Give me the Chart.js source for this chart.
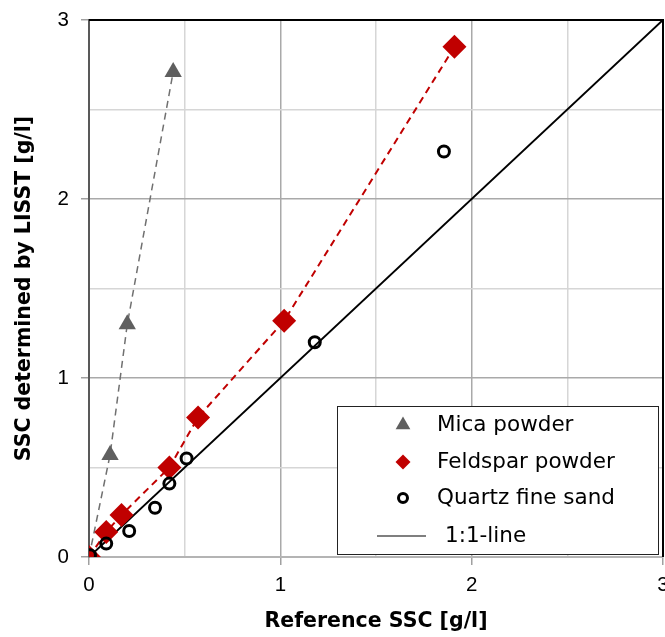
<!DOCTYPE html>
<html>
<head>
<meta charset="utf-8">
<script src="https://cdn.jsdelivr.net/npm/chart.js@4.4.0/dist/chart.umd.min.js"></script>
<style>
  body { margin: 0; background: #fff; }
  canvas { display: block; }
</style>
</head>
<body>
<canvas id="sscChart" width="665" height="637"></canvas>
<script>
// 図から読み取った値 [g/l]（x: Reference SSC, y: LISST）
const micaRef = [0, 0.11, 0.20, 0.44];
const micaLisst = [0, 0.57, 1.30, 2.71];
const feldsparRef = [0, 0.09, 0.17, 0.42, 0.57, 1.02, 1.91];
const feldsparLisst = [0, 0.14, 0.235, 0.50, 0.78, 1.32, 2.85];
const quartzRef = [0.005, 0.09, 0.21, 0.345, 0.42, 0.51, 1.18, 1.855];
const quartzLisst = [0.01, 0.075, 0.145, 0.275, 0.41, 0.55, 1.20, 2.265];
const lineRef = [0, 3];
const lineLisst = [0, 3];
const seriesLabels = ['Mica powder', 'Feldspar powder', 'Quartz fine sand', '1:1-line'];
const tickLabels = [0, 1, 2, 3];

const toPoints = (xs, ys) => xs.map((x, i) => ({ x: x, y: ys[i] }));

const isMajor = (ctx) => ctx.tick && tickLabels.includes(ctx.tick.value);

// 枠線（上・右）
const framePlugin = {
    id: 'frame',
    beforeDatasetsDraw(chart) {
        const { ctx, chartArea: a } = chart;
        ctx.save();
        ctx.strokeStyle = '#000';
        ctx.lineWidth = 2;
        ctx.beginPath();
        ctx.moveTo(a.left, a.top);
        ctx.lineTo(a.right, a.top);
        ctx.lineTo(a.right, a.bottom);
        ctx.stroke();
        ctx.restore();
    }
};

// 凡例（グラフ内の右下）
const boxLegendPlugin = {
    id: 'boxLegend',
    afterDraw(chart) {
        const { ctx, chartArea: a } = chart;
        const w = 321, h = 148;
        const left = a.right - 5 - w, top = a.bottom - 3 - h;
        ctx.save();
        ctx.fillStyle = '#fff';
        ctx.fillRect(left, top, w, h);
        ctx.strokeStyle = '#222';
        ctx.lineWidth = 1;
        ctx.strokeRect(left + 0.5, top + 0.5, w, h);

        const rows = [19, 56, 92, 130];
        const legendSizes = [8.5, 7.5, 4.5, 0];
        ctx.font = '21.5px "DejaVu Sans"';
        ctx.textBaseline = 'middle';
        chart.data.datasets.forEach((ds, i) => {
            const y = top + rows[i];
            if (ds.pointRadius > 0) {
                ctx.fillStyle = ds.backgroundColor;
                ctx.strokeStyle = ds.borderColor;
                ctx.lineWidth = ds.pointBorderWidth;
                Chart.helpers.drawPoint(ctx, {
                    pointStyle: ds.pointStyle,
                    radius: legendSizes[i],
                    borderWidth: ds.pointBorderWidth,
                    rotation: 0
                }, left + 66, y);
                ctx.fillStyle = '#000';
                ctx.fillText(ds.label, left + 100, y);
            } else {
                ctx.strokeStyle = ds.borderColor;
                ctx.lineWidth = 1.2;
                ctx.setLineDash([]);
                ctx.beginPath();
                ctx.moveTo(left + 40, y);
                ctx.lineTo(left + 89, y);
                ctx.stroke();
                ctx.fillStyle = '#000';
                ctx.fillText(ds.label, left + 108, y);
            }
        });
        ctx.restore();
    }
};

const axisBase = {
    type: 'linear',
    min: 0,
    max: 3,
    ticks: {
        stepSize: 0.5,
        autoSkip: false,
        maxRotation: 0,
        color: '#000',
        font: { family: '"Liberation Sans", Arial, sans-serif', size: 20.5 },
        callback: (value) => tickLabels.includes(value) ? String(value) : ''
    },
    grid: {
        color: (ctx) => isMajor(ctx) ? '#a9a9a9' : '#d6d6d6',
        lineWidth: 1.5,
        tickLength: 8,
        tickColor: (ctx) => isMajor(ctx) ? '#a0a0a0' : 'rgba(0,0,0,0)'
    }
};

const titleFont = { family: '"DejaVu Sans", sans-serif', size: 20.5, weight: 'bold' };

const chart = new Chart(document.getElementById('sscChart'), {
    type: 'scatter',
    data: {
        datasets: [{
            label: seriesLabels[0],
            data: toPoints(micaRef, micaLisst),
            showLine: true,
            borderColor: '#707070',
            borderWidth: 1.5,
            borderDash: [7, 5],
            backgroundColor: '#5f5f5f',
            pointStyle: 'triangle',
            pointRadius: 10,
            pointBorderWidth: 0,
            pointBackgroundColor: '#5f5f5f',
            order: 2
        }, {
            label: seriesLabels[1],
            data: toPoints(feldsparRef, feldsparLisst),
            showLine: true,
            borderColor: '#c00000',
            borderWidth: 2,
            borderDash: [7, 5],
            backgroundColor: '#c00000',
            pointStyle: 'rectRot',
            pointRadius: 12,
            pointBorderWidth: 0,
            pointBackgroundColor: '#c00000',
            order: 1
        }, {
            label: seriesLabels[2],
            data: toPoints(quartzRef, quartzLisst),
            showLine: false,
            borderColor: '#000',
            backgroundColor: 'rgba(0,0,0,0)',
            pointStyle: 'circle',
            pointRadius: 5.5,
            pointBorderWidth: 3,
            pointBackgroundColor: 'rgba(0,0,0,0)',
            pointBorderColor: '#000',
            order: 0
        }, {
            label: seriesLabels[3],
            data: toPoints(lineRef, lineLisst),
            showLine: true,
            borderColor: '#000',
            borderWidth: 2,
            pointRadius: 0,
            order: 3
        }]
    },
    options: {
        responsive: false,
        animation: false,
        layout: { autoPadding: false, padding: { top: 20, right: 2, left: 0, bottom: 0 } },
        plugins: {
            legend: { display: false },
            tooltip: { enabled: false }
        },
        scales: {
            x: {
                ...axisBase,
                ticks: { ...axisBase.ticks, padding: 8 },
                border: { color: '#b4b4b4', width: 2 },
                title: {
                    display: true,
                    text: 'Reference SSC [g/l]',
                    color: '#000',
                    font: titleFont,
                    padding: { top: 0, bottom: 3 }
                },
                afterFit: (scale) => {
                    scale.height = 80;
                    scale.paddingLeft = 0;
                    scale.paddingRight = 0;
                }
            },
            y: {
                ...axisBase,
                ticks: { ...axisBase.ticks, padding: 12 },
                border: { color: '#595959', width: 2 },
                title: {
                    display: true,
                    text: 'SSC determined by LISST [g/l]',
                    color: '#000',
                    font: titleFont,
                    padding: { top: 12, bottom: 0 }
                },
                afterFit: (scale) => {
                    scale.width = 89;
                    scale.paddingTop = 0;
                    scale.paddingBottom = 0;
                }
            }
        }
    },
    plugins: [framePlugin, boxLegendPlugin]
});
</script>
</body>
</html>
